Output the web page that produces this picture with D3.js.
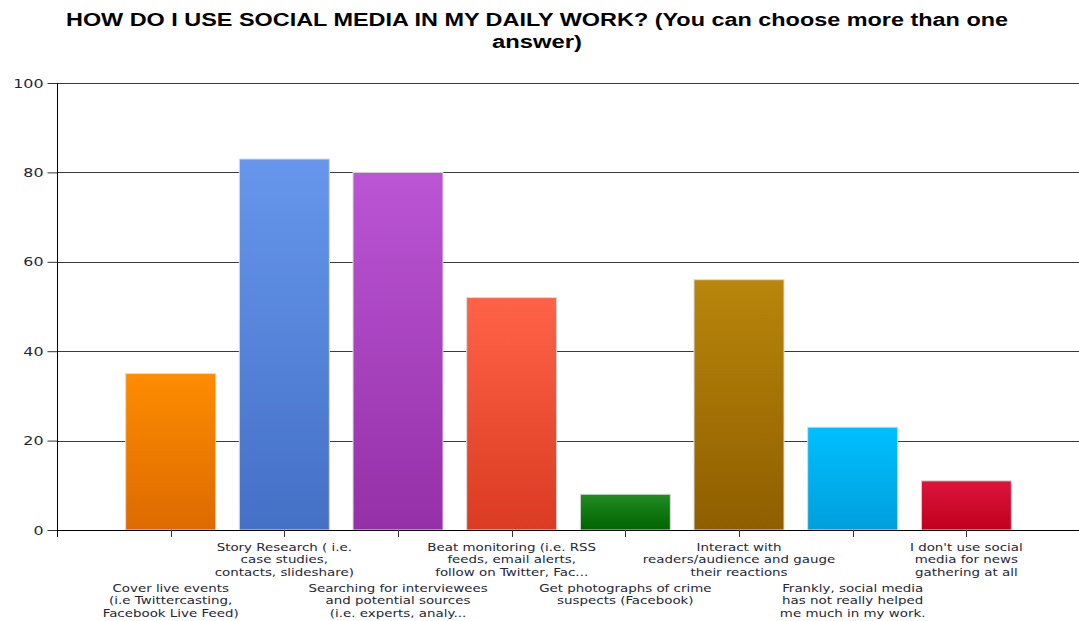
<!DOCTYPE html>
<html>
<head>
<meta charset="utf-8">
<script src="https://cdn.jsdelivr.net/npm/d3@7"></script>
<style>
  html, body { margin: 0; padding: 0; background: #fff; }
  svg { display: block; }
</style>
</head>
<body>
<svg id="chart" width="1079" height="621"></svg>
<script>
// Survey answers, one bar per answer
const categories = [
  ["Cover live events", "(i.e Twittercasting,", "Facebook Live Feed)"],
  ["Story Research ( i.e.", "case studies,", "contacts, slideshare)"],
  ["Searching for interviewees", "and potential sources", "(i.e. experts, analy..."],
  ["Beat monitoring (i.e. RSS", "feeds, email alerts,", "follow on Twitter, Fac..."],
  ["Get photographs of crime", "suspects (Facebook)"],
  ["Interact with", "readers/audience and gauge", "their reactions"],
  ["Frankly, social media", "has not really helped", "me much in my work."],
  ["I don't use social", "media for news", "gathering at all"]
];
const values = [35, 83, 80, 52, 8, 56, 23, 11];
const yTicks = [0, 20, 40, 60, 80, 100];
const titleLines = ["HOW DO I USE SOCIAL MEDIA IN MY DAILY WORK? (You can choose more than one", "answer)"];
const barTop = ["#ff8c00", "#6697ec", "#bb55d4", "#ff6347", "#228b22", "#b8860b", "#00bfff", "#dc143c"];
const barBottom = ["#dc6a00", "#4470c6", "#9530a8", "#da3b22", "#006400", "#8f5e00", "#009fdc", "#c0001e"];

const svg = d3.select("#chart");
const plotLeft = 57, plotRight = 1080, plotTop = 83, plotBottom = 530;
const stretch = 1.22;   // wide text face
const textColor = "#262636";

const x = d3.scalePoint().domain(d3.range(categories.length)).range([plotLeft, plotRight]).padding(1);
const y = d3.scaleLinear().domain([0, 100]).range([plotBottom, plotTop]);
const barW = 90;

const defs = svg.append("defs");
values.forEach((v, i) => {
  const g = defs.append("linearGradient").attr("id", "g" + i)
    .attr("x1", 0).attr("y1", 0).attr("x2", 0).attr("y2", 1);
  g.append("stop").attr("offset", "0%").attr("stop-color", barTop[i]);
  g.append("stop").attr("offset", "100%").attr("stop-color", barBottom[i]);
});

// Title, two lines
const titleWidths = [942, 90];
svg.append("g").selectAll("text").data(titleLines).join("text")
  .attr("x", 537).attr("y", (d, i) => 26 + i * 22)
  .attr("text-anchor", "middle")
  .attr("textLength", (d, i) => titleWidths[i])
  .attr("lengthAdjust", "spacingAndGlyphs")
  .style("font-family", "'Liberation Sans', Arial, sans-serif")
  .style("font-weight", "bold").style("font-size", "18px").attr("fill", "#000")
  .text(d => d);

// Horizontal gridlines
svg.append("g").selectAll("line").data(yTicks.filter(t => t > 0)).join("line")
  .attr("x1", plotLeft).attr("x2", 1079)
  .attr("y1", d => Math.round(y(d)) + 0.5).attr("y2", d => Math.round(y(d)) + 0.5)
  .attr("stroke", "#3a3a3a").attr("stroke-width", 1);

// Y axis
const yAxis = svg.append("g").attr("transform", `translate(${plotLeft + 0.5},0)`)
  .call(d3.axisLeft(y).tickValues(yTicks).tickSize(10).tickPadding(4));
yAxis.select(".domain").remove();
yAxis.selectAll(".tick line").attr("stroke", "#333");
yAxis.selectAll(".tick text")
  .attr("x", null)
  .attr("transform", `translate(-14,0) scale(${stretch},1)`)
  .style("font-family", "'DejaVu Sans', Verdana, sans-serif")
  .style("font-size", "13px").attr("fill", textColor);
svg.append("line").attr("x1", plotLeft + 0.5).attr("x2", plotLeft + 0.5)
  .attr("y1", plotTop).attr("y2", plotBottom + 7).attr("stroke", "#000");

// Bars
svg.append("g").selectAll("rect").data(values).join("rect")
  .attr("x", (d, i) => x(i) - barW / 2)
  .attr("y", d => y(d))
  .attr("width", barW)
  .attr("height", d => y(0) - y(d))
  .attr("fill", (d, i) => `url(#g${i})`)
  .attr("stroke", "#dcdcdc").attr("stroke-width", 1);

// X axis baseline and ticks
svg.append("line").attr("x1", plotLeft).attr("x2", 1079)
  .attr("y1", plotBottom + 0.5).attr("y2", plotBottom + 0.5).attr("stroke", "#000");
svg.append("g").selectAll("line").data(d3.range(categories.length)).join("line")
  .attr("x1", i => Math.round(x(i)) + 0.5).attr("x2", i => Math.round(x(i)) + 0.5)
  .attr("y1", plotBottom).attr("y2", plotBottom + 7).attr("stroke", "#333");

// Category labels, alternating between two rows
const labels = svg.append("g")
  .style("font-family", "'DejaVu Sans', Verdana, sans-serif")
  .style("font-size", "11px").attr("fill", textColor);
categories.forEach((lines, i) => {
  const y0 = i % 2 === 1 ? 551 : 592;
  const t = labels.append("text").attr("text-anchor", "middle")
    .attr("transform", `translate(${x(i)},0) scale(${stretch},1)`);
  lines.forEach((ln, k) => {
    t.append("tspan").attr("x", 0).attr("y", y0 + k * 12.5).text(ln);
  });
});
</script>
</body>
</html>
